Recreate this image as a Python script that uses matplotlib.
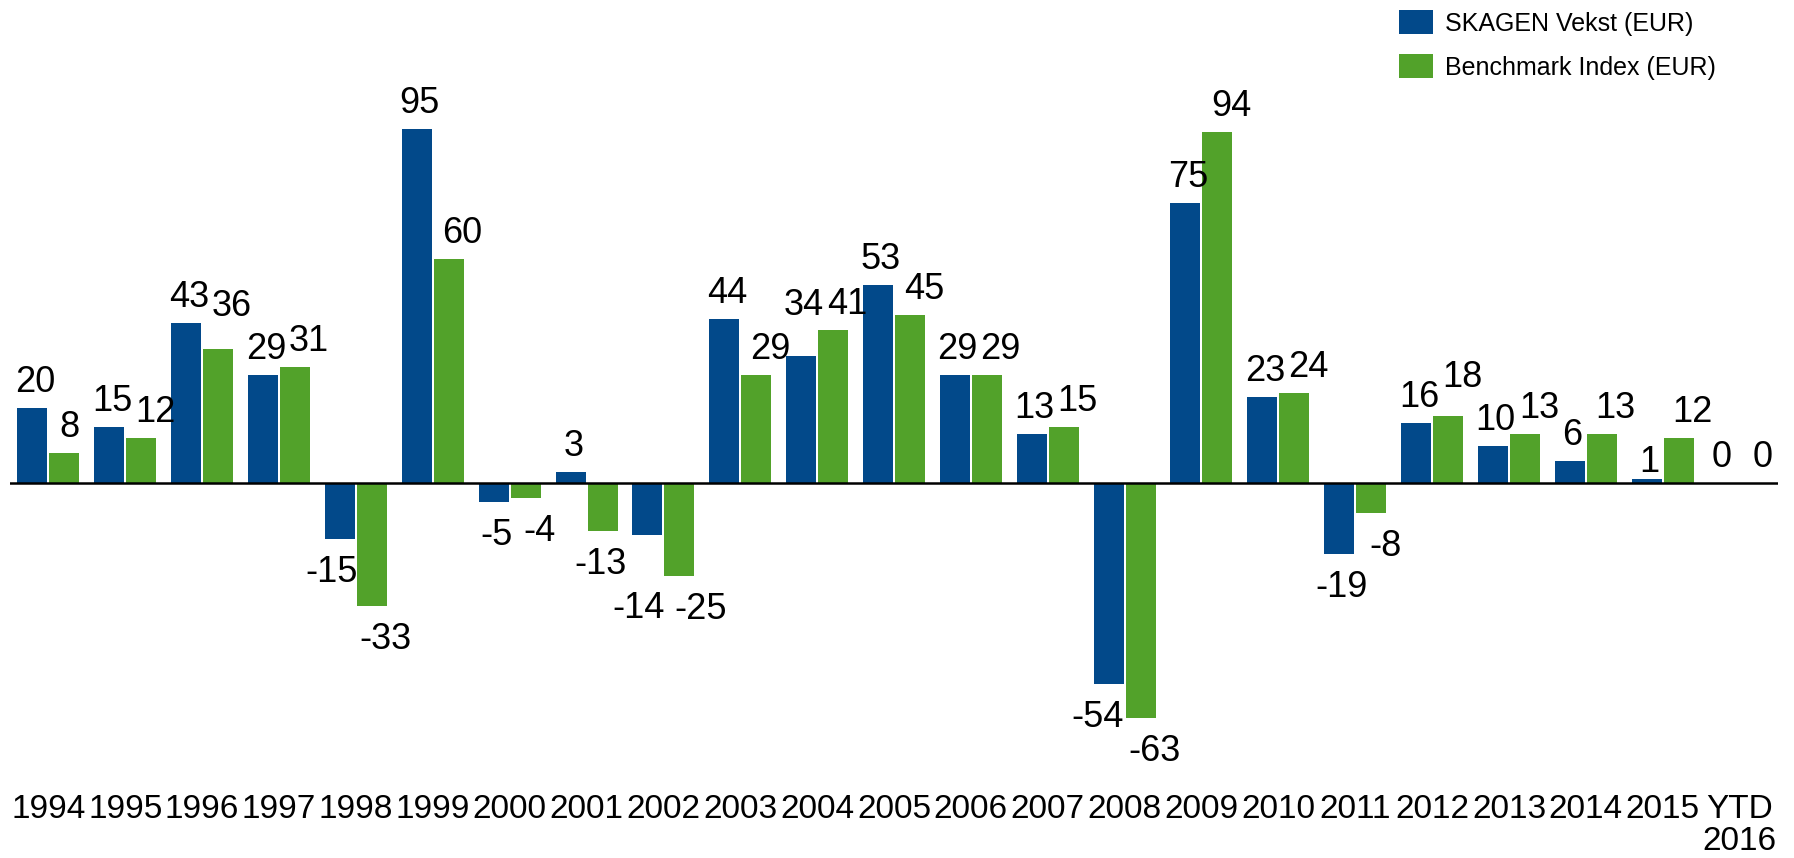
import matplotlib
matplotlib.use("Agg")
import matplotlib.pyplot as plt
from matplotlib.patches import Patch
import numpy as np

plt.rcParams['font.family'] = ['Liberation Sans', 'DejaVu Sans']

categories = ["1994", "1995", "1996", "1997", "1998", "1999", "2000", "2001", "2002",
              "2003", "2004", "2005", "2006", "2007", "2008", "2009", "2010", "2011",
              "2012", "2013", "2014", "2015", "YTD\n2016"]
vekst = [20, 15, 43, 29, -15, 95, -5, 3, -14, 44, 34, 53, 29, 13, -54, 75, 23, -19,
         16, 10, 6, 1, 0]
bench = [8, 12, 36, 31, -33, 60, -4, -13, -25, 29, 41, 45, 29, 15, -63, 94, 24, -8,
         18, 13, 13, 12, 0]
series_names = ["SKAGEN Vekst (EUR)", "Benchmark Index (EUR)"]
colors = ["#02498A", "#52A22A"]

# label placement tweaks of the original (points): vertical extra distance from bar,
# horizontal shift per series and a few individual horizontal overrides
label_nudge = {(1, 2): 12, (0, 10): 18, (1, 18): 9, (0, 8): 29, (0, 21): -6}
series_dx = [2, 10]
label_dx = {(0, 4): -6, (0, 8): -6.5, (0, 14): -8, (1, 0): 3.5, (1, 7): -1.5, (1, 8): 15,
            (0, 22): -1.5, (1, 22): 5}

W, H = 1794, 858
fig = plt.figure(figsize=(W / 100, H / 100), dpi=100)
ax = fig.add_axes([10 / W, (H - 744) / H, 1768 / W, 634 / H])

x = np.arange(len(categories))
bw = 0.39
off = 0.208
ax.bar(x - off, vekst, width=bw, color=colors[0], linewidth=0)
ax.bar(x + off, bench, width=bw, color=colors[1], linewidth=0)
ax.axhline(0, color="black", lw=1.8, zorder=3)

ax.set_xlim(-0.5, len(categories) - 0.5)
ax.set_ylim(-70, 100)

lab_fs = 26
gap = 11.5
for si, (xs, vals) in enumerate(((x - off, vekst), (x + off, bench))):
    for i, (xi, v) in enumerate(zip(xs, vals)):
        extra = label_nudge.get((si, i), 0)
        dx = label_dx.get((si, i), series_dx[si])
        if v >= 0:
            ax.annotate(f"{v}", (xi, v), xytext=(dx, gap + extra), textcoords="offset points",
                        ha="center", va="baseline", fontsize=lab_fs)
        else:
            ax.annotate(f"{v}", (xi, v), xytext=(dx, -gap - extra), textcoords="offset points",
                        ha="center", va="top", fontsize=lab_fs)

ax.set_xticks(x)
ax.set_xticklabels(categories, fontsize=24, linespacing=1.05)
ax.tick_params(axis="x", length=0, pad=36)
ax.set_yticks([])
for s in ax.spines.values():
    s.set_visible(False)

handles = [Patch(color=c, linewidth=0) for c in colors]
fig.legend(handles, series_names, loc="upper left",
           bbox_to_anchor=(1399 / W, 1 - 10 / H), frameon=False, fontsize=18,
           borderpad=0, borderaxespad=0, handlelength=1.35, handleheight=1.1,
           handletextpad=0.5, labelspacing=0.75)

fig.savefig("out.png", dpi=100)
